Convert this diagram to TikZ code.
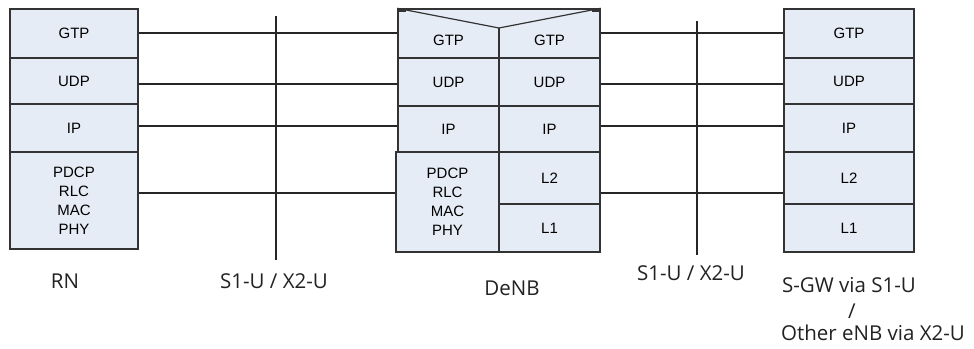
\documentclass[tikz,border=0pt]{standalone}
\usepackage{fontspec}
\setmainfont{Liberation Sans}
\newfontfamily\labelfont{Open Sans}
\definecolor{cellfill}{HTML}{E6ECF6}
\definecolor{cellline}{HTML}{333333}
\definecolor{labeltext}{HTML}{222222}
\begin{document}
\begin{tikzpicture}[x=1pt,y=-1pt,
  cellfont/.style={font=\fontsize{15}{19}\selectfont},
  cell/.style={draw=cellline,fill=cellfill,line width=1.4pt,inner sep=0pt,
    cellfont,align=center,text=black},
  link/.style={draw=black!85,line width=1.3pt},
  lbl/.style={font=\labelfont\fontsize{20.5}{24}\selectfont,text=labeltext,inner sep=0pt,anchor=base}]
\useasboundingbox (0,0) rectangle (974,348);
% ---- RN stack
\node[cell,minimum width=128pt,minimum height=49pt] (rn-gtp) at (74,33.5) {GTP};
\node[cell,minimum width=128pt,minimum height=46pt] (rn-udp) at (74,81) {UDP};
\node[cell,minimum width=128pt,minimum height=48pt] (rn-ip) at (74,128) {IP};
\node[cell,minimum width=128pt,minimum height=97pt] (rn-low) at (74,200.5) {PDCP\\RLC\\MAC\\PHY};
% ---- DeNB stack
\node[cell,minimum width=202pt,minimum height=49pt] (denb-top) at (499,33.5) {};
\draw[cellline,line width=1.2pt] (denb-top.north west) -- (499,28) coordinate (vtip) -- (denb-top.north east);
\draw[cellline,line width=1.4pt] (vtip) -- (denb-top.south);
\draw[cellline,line width=2.5pt] (399,10.3) -- (406,10.3) (592,10.3) -- (599,10.3);
\node[cellfont,inner sep=0pt] (denbL-gtp) at (448.5,40) {GTP};
\node[cellfont,inner sep=0pt] (denbR-gtp) at (549.5,40) {GTP};
\node[cell,minimum width=101pt,minimum height=48pt] (denbL-udp) at (448.5,82) {UDP};
\node[cell,minimum width=101pt,minimum height=48pt] (denbR-udp) at (549.5,82) {UDP};
\node[cell,minimum width=101pt,minimum height=46pt] (denbL-ip) at (448.5,129) {IP};
\node[cell,minimum width=101pt,minimum height=46pt] (denbR-ip) at (549.5,129) {IP};
\node[cell,minimum width=103pt,minimum height=100pt] (denbL-low) at (447.5,202) {PDCP\\RLC\\MAC\\PHY};
\node[cell,minimum width=101pt,minimum height=52pt] (denbR-l2) at (549.5,178) {L2};
\node[cell,minimum width=101pt,minimum height=48pt] (denbR-l1) at (549.5,228) {L1};
% ---- S-GW / eNB stack
\node[cell,minimum width=130pt,minimum height=49pt] (gw-gtp) at (849,33.5) {GTP};
\node[cell,minimum width=130pt,minimum height=46pt] (gw-udp) at (849,81) {UDP};
\node[cell,minimum width=130pt,minimum height=48pt] (gw-ip) at (849,128) {IP};
\node[cell,minimum width=130pt,minimum height=52pt] (gw-l2) at (849,178) {L2};
\node[cell,minimum width=130pt,minimum height=48pt] (gw-l1) at (849,228) {L1};
% ---- interface lines (vertical)
\coordinate (v1top) at (276,16);
\coordinate (v1bot) at (276,260);
\coordinate (v2top) at (697,21);
\coordinate (v2bot) at (697,255);
\draw[link] (v1top) -- (v1bot);
\draw[link] (v2top) -- (v2bot);
% ---- peer links
\draw[link] (rn-gtp.east |- 0,33) -- (denb-top.west |- 0,33);
\draw[link] (rn-udp.east |- 0,84) -- (denbL-udp.west |- 0,84);
\draw[link] (rn-ip.east |- 0,126) -- (denbL-ip.west |- 0,126);
\draw[link] (rn-low.east |- 0,193) -- (denbL-low.west |- 0,193);
\draw[link] (denb-top.east |- 0,33) -- (gw-gtp.west |- 0,33);
\draw[link] (denbR-udp.east |- 0,84) -- (gw-udp.west |- 0,84);
\draw[link] (denbR-ip.east |- 0,126) -- (gw-ip.west |- 0,126);
\draw[link] (denbR-l2.east |- 0,193) -- (gw-l2.west |- 0,193);
% ---- labels
\node[lbl] (lbl-rn) at (65,288) {RN};
\node[lbl] (lbl-if1) at (274,288) {S1-U / X2-U};
\node[lbl] (lbl-denb) at (512,295) {DeNB};
\node[lbl] (lbl-if2) at (691,280) {S1-U / X2-U};
\node[lbl] (lbl-gw1) at (849,292) {S-GW via S1-U};
\node[lbl] (lbl-gw2) at (852,318) {/};
\node[lbl] (lbl-gw3) at (873,340) {Other eNB via X2-U};
\end{tikzpicture}
\end{document}
